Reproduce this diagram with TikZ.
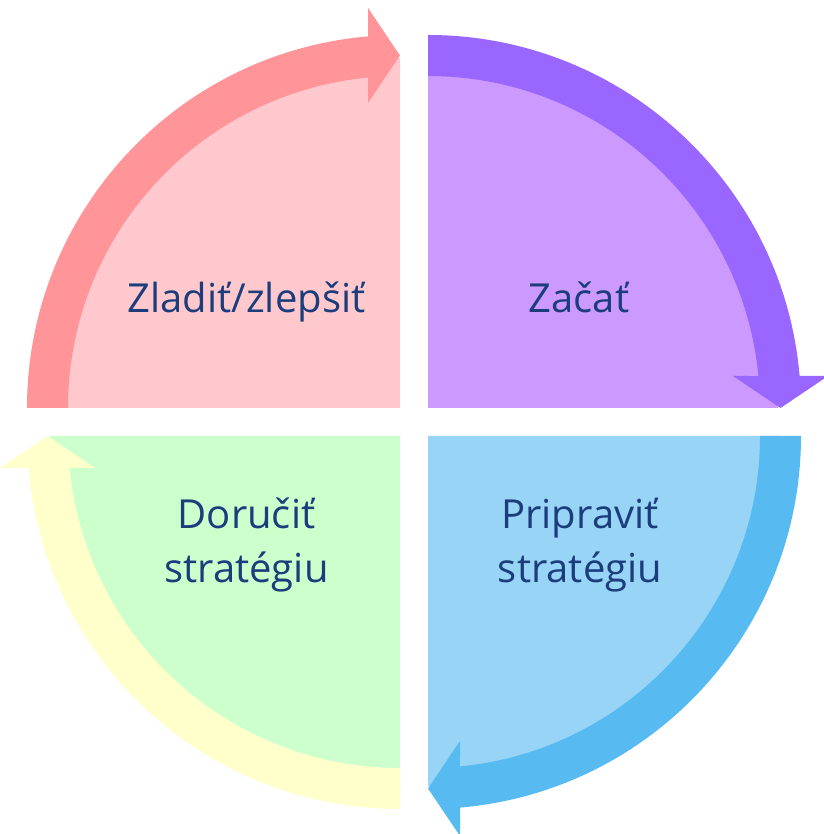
\documentclass[tikz,border=0pt]{standalone}
\usepackage{fontspec}
\setmainfont{Open Sans}
\usetikzlibrary{calc}
\definecolor{pinkfill}{HTML}{FFC8CD}
\definecolor{pinkarrow}{HTML}{FF9599}
\definecolor{purplefill}{HTML}{CC99FF}
\definecolor{purplearrow}{HTML}{9966FF}
\definecolor{bluefill}{HTML}{98D4F6}
\definecolor{bluearrow}{HTML}{57BBF2}
\definecolor{greenfill}{HTML}{CCFFCC}
\definecolor{yellowarrow}{HTML}{FFFFCC}
\definecolor{txt}{HTML}{1B3D7C}
\newcommand{\quadfill}[3]{% corner, start angle, colour
  \fill[#3] (#1) -- ([shift={(#2:350pt)}]#1) arc[start angle=#2, end angle=#2-90, radius=350pt] -- cycle;
}
\newcommand{\cyclearrow}[3]{% corner, start angle, colour
  \pgfmathsetmacro\tipang{#2-90}
  \pgfmathsetmacro\backang{#2}
  \pgfmathsetmacro\outang{#2-90+asin(32/373)}
  \pgfmathsetmacro\inang{#2-90+asin(32/332)}
  \fill[#3] ([shift={(#2:373pt)}]#1) arc[start angle=#2, end angle=\outang, radius=373pt]
    -- ($(#1)+(\tipang:400pt)+(\backang:32pt)$) -- ([shift={(\tipang:352.5pt)}]#1)
    -- ($(#1)+(\tipang:305pt)+(\backang:32pt)$) -- ([shift={(\inang:332pt)}]#1)
    arc[start angle=\inang, end angle=#2, radius=332pt] -- cycle;
}
\begin{document}
\begin{tikzpicture}[x=1pt,y=1pt]
\tikzset{lbl/.style={text=txt, font=\fontsize{40}{54}\selectfont, align=center, inner sep=0pt}}
\useasboundingbox (0,0) rectangle (823,834);
\fill[white] (0,0) rectangle (823,834);
\coordinate (cTL) at (400,426);
\coordinate (cTR) at (428,426);
\coordinate (cBR) at (428,398);
\coordinate (cBL) at (400,398);
\quadfill{cTL}{180}{pinkfill}
\quadfill{cTR}{90}{purplefill}
\quadfill{cBR}{0}{bluefill}
\quadfill{cBL}{270}{greenfill}
\cyclearrow{cTL}{180}{pinkarrow}
\cyclearrow{cTR}{90}{purplearrow}
\cyclearrow{cBR}{0}{bluearrow}
\cyclearrow{cBL}{270}{yellowarrow}
\node[lbl, anchor=base] (tl) at (246.5,521) {Zladiť/zlepšiť};
\node[lbl, anchor=base] (tr) at (579,521) {Začať};
\node[lbl, anchor=base] (bl) at (246.5,251) {Doručiť\\stratégiu};
\node[lbl, anchor=base] (br) at (580,251) {Pripraviť\\stratégiu};
\end{tikzpicture}
\end{document}
